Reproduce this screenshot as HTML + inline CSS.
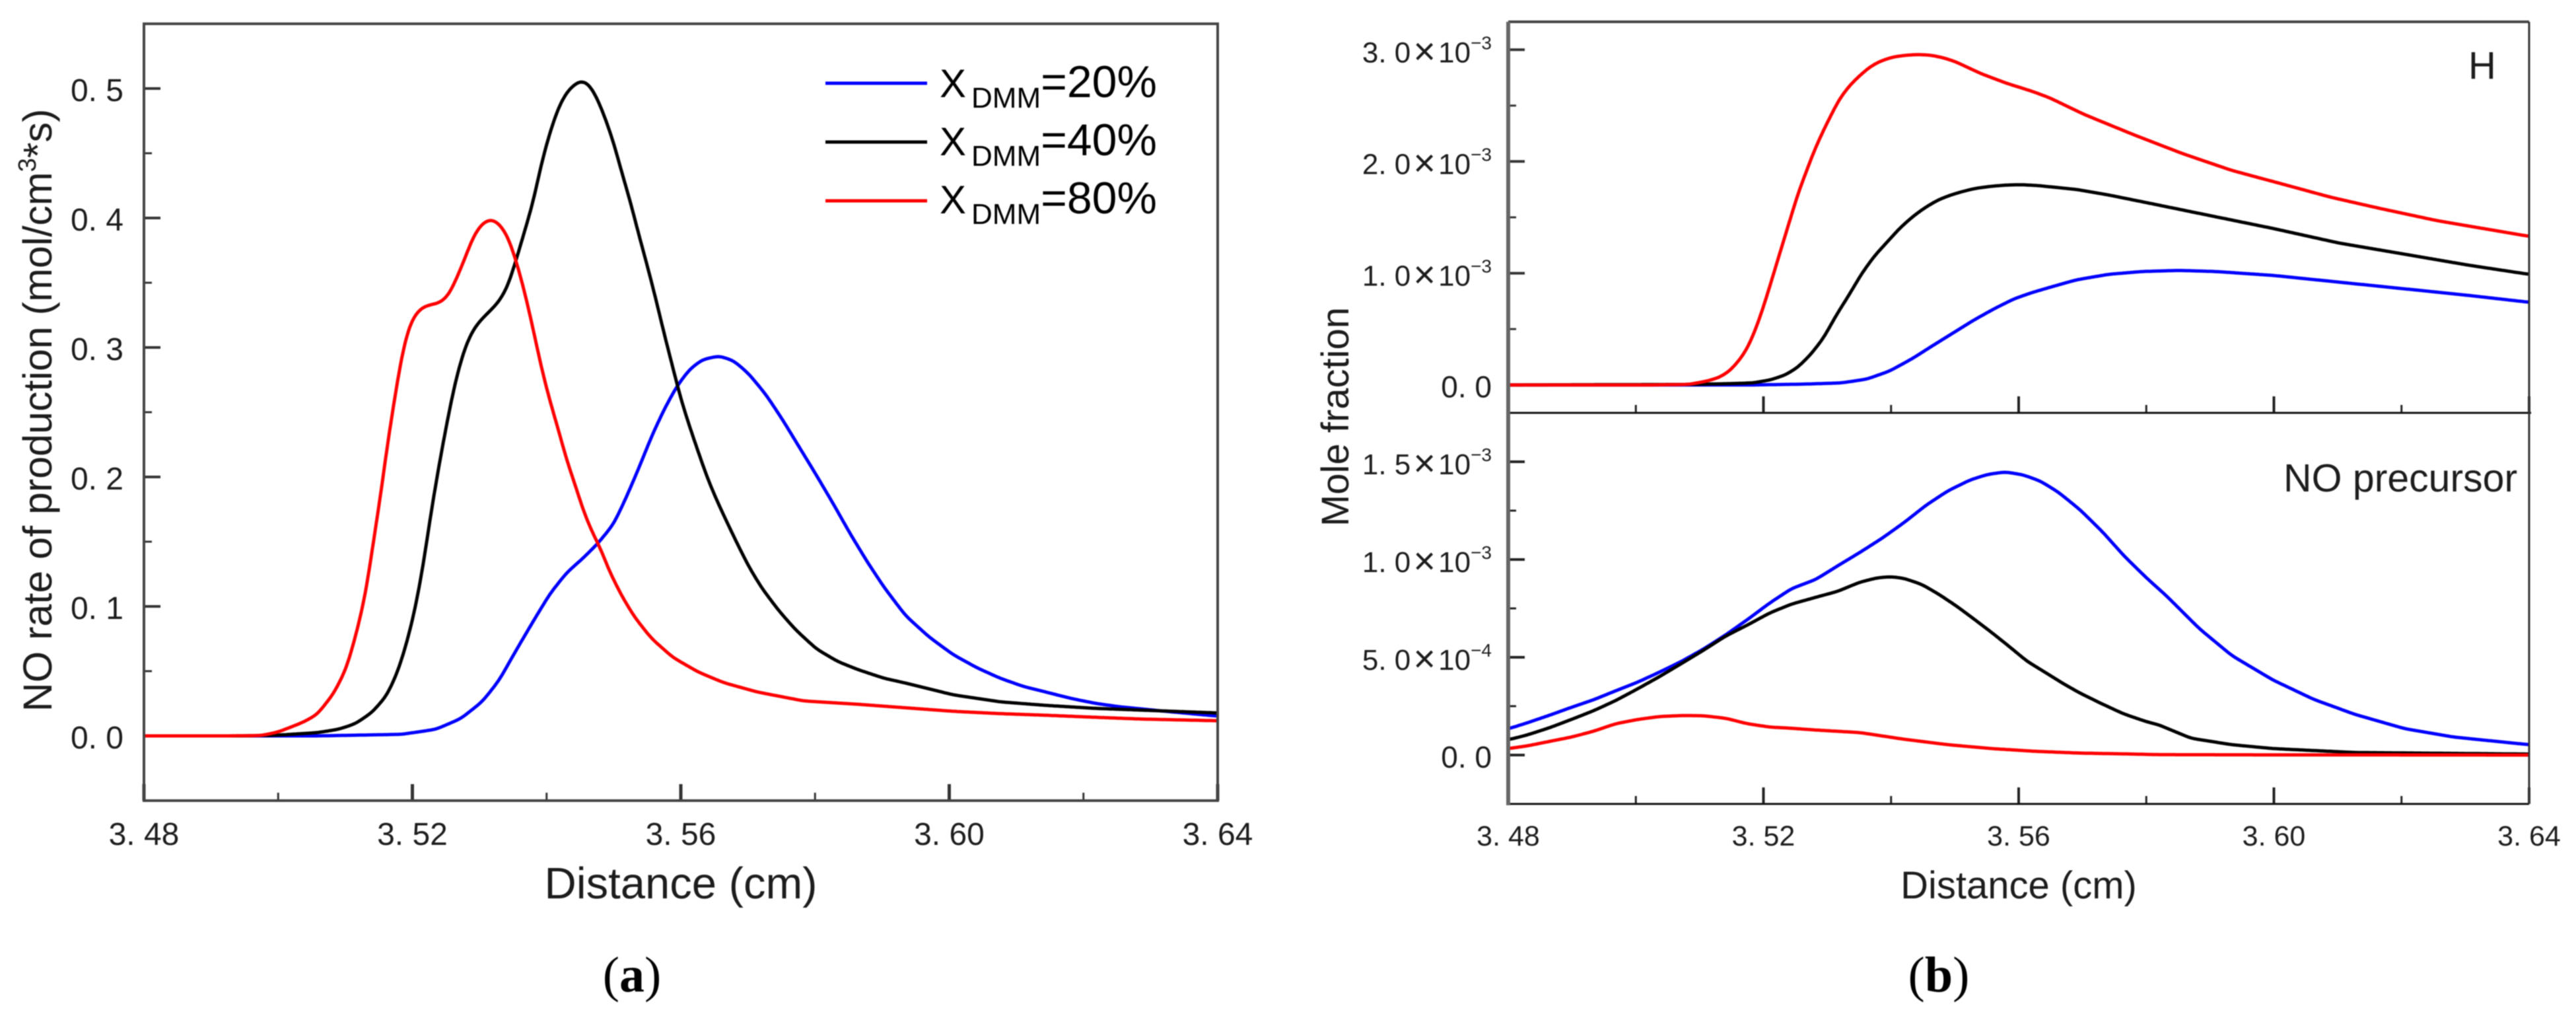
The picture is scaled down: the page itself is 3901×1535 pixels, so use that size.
<!DOCTYPE html>
<html>
<head>
<meta charset="utf-8">
<title>NO rate of production and mole fraction charts</title>
<style>
html,body{margin:0;padding:0;background:#fff;width:3901px;height:1535px;overflow:hidden}
svg{display:block;filter:blur(0.7px)}
text{font-family:"Liberation Sans",sans-serif;fill:#1c1c1c}
.serif{font-family:"Liberation Serif",serif;fill:#000}
</style>
</head>
<body>
<svg id="figure" xmlns="http://www.w3.org/2000/svg" width="3901" height="1535" viewBox="0 0 3901 1535">
  <rect x="0" y="0" width="3901" height="1535" fill="#fff"/>
  <g id="layer-a"></g>
  <g id="layer-b"></g>

  <text transform="translate(78,621) rotate(-90)" text-anchor="middle" font-size="61">NO rate of production (mol/cm<tspan font-size="38" dy="-24">3</tspan><tspan dy="24">*s)</tspan></text>
  <text x="1031" y="1360" text-anchor="middle" font-size="67">Distance (cm)</text>

  <g>
    <line x1="1250" x2="1404" y1="126" y2="126" stroke="#0000ff" stroke-width="5"/>
    <line x1="1250" x2="1404" y1="215" y2="215" stroke="#000" stroke-width="5"/>
    <line x1="1250" x2="1404" y1="304" y2="304" stroke="#ff0000" stroke-width="5"/>
    <text x="1423" y="147" font-size="60" style="fill:#000">X<tspan font-size="44" dx="8" dy="16">DMM</tspan><tspan dy="-16" font-size="68">=20%</tspan></text>
    <text x="1423" y="235" font-size="60" style="fill:#000">X<tspan font-size="44" dx="8" dy="16">DMM</tspan><tspan dy="-16" font-size="68">=40%</tspan></text>
    <text x="1423" y="323" font-size="60" style="fill:#000">X<tspan font-size="44" dx="8" dy="16">DMM</tspan><tspan dy="-16" font-size="68">=80%</tspan></text>
  </g>

  <text transform="translate(2042,631) rotate(-90)" text-anchor="middle" font-size="58">Mole fraction</text>
  <text x="3057" y="1360" text-anchor="middle" font-size="58">Distance (cm)</text>
  <text x="3738" y="119" font-size="58">H</text>
  <text x="3458" y="744" font-size="59">NO precursor</text>

  <text class="serif" x="957" y="1501" text-anchor="middle" font-size="76">(<tspan font-weight="bold">a</tspan>)</text>
  <text class="serif" x="2936" y="1501" text-anchor="middle" font-size="76">(<tspan font-weight="bold">b</tspan>)</text>
</svg>

<script>
// ---- Panel (a): NO rate of production ----
var aRedX = [3.48,3.4925,3.4975,3.5,3.5037,3.5058,3.5083,3.5102,3.5118,3.5131,3.5143,3.5153,3.5162,3.5172,3.5181,3.519,3.52,3.5213,3.5225,3.5241,3.5254,3.5266,3.5279,3.5291,3.5304,3.5317,3.5329,3.5342,3.5354,3.5367,3.538,3.5392,3.5405,3.5418,3.543,3.5443,3.5455,3.5468,3.5481,3.5493,3.5512,3.5531,3.5556,3.5588,3.5626,3.5664,3.5714,3.5783,3.5865,3.5935,3.6006,3.6076,3.6146,3.6216,3.6287,3.64];
var aRedY = [0,0,.0003,.003,.0105,.0165,.0329,.0525,.082,.1114,.1539,.1866,.2226,.2553,.2847,.3076,.3224,.3305,.3328,.3345,.3403,.3534,.3698,.3861,.3959,.3992,.3959,.3861,.3681,.3436,.3142,.2847,.2586,.2357,.2128,.1932,.1735,.1572,.1441,.1278,.1081,.0918,.0754,.0607,.0493,.0411,.0339,.027,.0244,.0217,.019,.0172,.0159,.0144,.013,.0117];

var aBlackX = [3.48,3.495,3.5,3.5058,3.509,3.5115,3.514,3.5162,3.5178,3.519,3.5203,3.5216,3.5228,3.5241,3.5254,3.5266,3.5279,3.5291,3.5304,3.5317,3.5329,3.5342,3.5354,3.5367,3.538,3.5392,3.5405,3.5418,3.543,3.5443,3.5452,3.5462,3.5474,3.5487,3.55,3.5512,3.5525,3.5537,3.555,3.5563,3.5575,3.5588,3.56,3.5613,3.5626,3.5638,3.5651,3.5664,3.5682,3.5701,3.572,3.5746,3.5771,3.5802,3.5834,3.5865,3.5903,3.5935,3.6006,3.6076,3.6146,3.6216,3.6287,3.64];
var aBlackY = [0,0,.0006,.0025,.0051,.0094,.0182,.0313,.0493,.0689,.0951,.131,.1736,.2128,.2488,.2782,.3011,.3142,.3224,.3289,.3354,.3469,.3665,.3894,.4123,.4417,.4663,.4859,.4973,.5039,.5060,.5040,.4941,.4777,.4581,.4352,.4123,.3878,.3632,.3371,.3109,.2847,.2602,.239,.2193,.2014,.185,.1703,.1507,.131,.1147,.0967,.082,.0672,.0574,.051,.0445,.0408,.0317,.0263,.0235,.0213,.0199,.0177];

var aBlueX = [3.48,3.5058,3.5121,3.5184,3.5235,3.5272,3.5304,3.5329,3.5354,3.538,3.5405,3.543,3.5455,3.5477,3.55,3.5518,3.5537,3.5556,3.5575,3.5594,3.5613,3.5632,3.5657,3.5679,3.5701,3.5727,3.5752,3.5777,3.5802,3.5828,3.5853,3.5878,3.5903,3.5935,3.597,3.6006,3.6041,3.6076,3.6111,3.6146,3.6181,3.6216,3.6252,3.6287,3.6322,3.64];
var aBlueY = [0,0,.0006,.0012,.0051,.0133,.0264,.0427,.0656,.0885,.1098,.1261,.1376,.149,.1637,.1834,.2063,.2308,.252,.27,.2831,.2906,.2935,.2897,.2798,.2635,.2439,.2226,.2014,.1785,.1556,.1343,.1147,.0928,.0764,.0627,.0527,.0445,.0381,.0336,.029,.0253,.0226,.0208,.019,.0153];

// ---- Panel (b) upper: H mole fraction (units of 1e-3) ----
var hRedX = [3.48,3.5024,3.5083,3.5111,3.5131,3.5147,3.5163,3.5175,3.5187,3.5197,3.5207,3.5219,3.5231,3.5242,3.5254,3.5266,3.5278,3.529,3.5302,3.5318,3.5334,3.535,3.5366,3.5382,3.5402,3.5422,3.5441,3.5461,3.5481,3.5501,3.5541,3.5581,3.5621,3.5648,3.5703,3.578,3.5857,3.5934,3.6012,3.6089,3.6166,3.6256,3.64];
var hRedY = [0,0,.0045,.034,.068,.125,.227,.329,.487,.646,.827,1.054,1.28,1.484,1.711,1.892,2.074,2.23,2.37,2.549,2.673,2.764,2.843,2.895,2.934,2.95,2.957,2.952,2.93,2.893,2.786,2.7,2.628,2.571,2.42,2.24,2.07,1.92,1.80,1.68,1.58,1.47,1.33];

var hBlackX = [3.48,3.5083,3.5143,3.5183,3.5211,3.5235,3.5254,3.5274,3.5294,3.5314,3.5334,3.5354,3.5374,3.5394,3.5414,3.5434,3.5453,3.5473,3.5493,3.5513,3.5533,3.5557,3.5581,3.5605,3.5629,3.5648,3.569,3.5741,3.5819,3.5896,3.5999,3.6102,3.6205,3.6307,3.64];
var hBlackY = [0,.0045,.011,.018,.045,.091,.159,.272,.419,.623,.804,.997,1.155,1.28,1.405,1.507,1.586,1.654,1.699,1.733,1.76,1.778,1.789,1.792,1.785,1.774,1.75,1.70,1.61,1.52,1.40,1.27,1.17,1.07,.99];

var hBlueX = [3.48,3.5183,3.5262,3.5322,3.5362,3.5398,3.5434,3.5465,3.5497,3.5529,3.5561,3.5593,3.5621,3.5648,3.569,3.5741,3.5793,3.5851,3.5909,3.5999,3.6102,3.6205,3.6307,3.64];
var hBlueY = [0,0,.007,.018,.052,.125,.238,.351,.464,.578,.68,.771,.827,.872,.94,.99,1.015,1.025,1.015,.98,.92,.86,.80,.74];

// ---- Panel (b) lower: NO precursor mole fraction (units of 1e-3) ----
var pBlueX = [3.48,3.483,3.4865,3.4899,3.4934,3.4968,3.5003,3.5037,3.5072,3.5106,3.5141,3.5175,3.521,3.5244,3.5282,3.5317,3.5351,3.5386,3.542,3.5455,3.5489,3.5524,3.5551,3.5579,3.5607,3.5634,3.5662,3.5696,3.5731,3.5765,3.58,3.5832,3.5883,3.5934,3.5999,3.6063,3.6127,3.6205,3.6282,3.64];
var pBlueY = [.134,.165,.204,.244,.283,.328,.373,.424,.48,.542,.615,.693,.778,.851,.898,.969,1.036,1.109,1.188,1.278,1.351,1.407,1.435,1.448,1.433,1.401,1.345,1.255,1.143,1.019,.907,.813,.647,.509,.383,.284,.208,.135,.092,.053];

var pBlackX = [3.48,3.483,3.4865,3.4899,3.4934,3.4968,3.5003,3.5037,3.5072,3.5106,3.5141,3.5175,3.521,3.5244,3.528,3.5317,3.5351,3.5379,3.54,3.542,3.5448,3.5475,3.5503,3.5531,3.5558,3.5586,3.5613,3.5641,3.5669,3.5696,3.5731,3.5765,3.58,3.582,3.587,3.5934,3.5999,3.6127,3.64];
var pBlackY = [.078,.103,.14,.182,.227,.278,.339,.401,.469,.536,.609,.665,.727,.772,.805,.838,.884,.907,.912,.904,.873,.822,.761,.693,.626,.553,.48,.424,.367,.317,.261,.21,.171,.154,.086,.053,.033,.013,.005];

var pRedX = [3.48,3.483,3.4865,3.4899,3.4934,3.4968,3.5003,3.5037,3.5072,3.5106,3.5141,3.5175,3.521,3.5244,3.5282,3.5351,3.542,3.5489,3.5558,3.5627,3.5696,3.5765,3.582,3.6,3.64];
var pRedY = [.033,.047,.07,.092,.122,.16,.182,.197,.202,.201,.188,.16,.143,.137,.128,.115,.081,.053,.033,.019,.01,.006,.002,.001,0];

// ---- Tick values and labels ----
var xMajorTicks = [3.48,3.52,3.56,3.60,3.64];
var xMinorTicks = [3.50,3.54,3.58,3.62];
var xTickLabels = ['3. 48','3. 52','3. 56','3. 60','3. 64'];
var aYMajorTicks = [0,.1,.2,.3,.4,.5];
var aYMinorTicks = [.05,.15,.25,.35,.45];
var aYTickLabels = ['0. 0','0. 1','0. 2','0. 3','0. 4','0. 5'];
var hYMajorTicks = [0,1,2,3];
var hYMinorTicks = [.5,1.5,2.5];
var hYTickMantissa = ['0. 0','1. 0','2. 0','3. 0'];
var hYTickExponent = ['','-3','-3','-3'];
var pYMajorTicks = [0,.5,1,1.5];
var pYMinorTicks = [.25,.75,1.25];
var pYTickMantissa = ['0. 0','5. 0','1. 0','1. 5'];
var pYTickExponent = ['','-4','-3','-3'];

var NS = 'http://www.w3.org/2000/svg';
function scale(d0,d1,r0,r1){return function(v){return r0+(v-d0)/(d1-d0)*(r1-r0);};}
function make(tag,parent,name,props){
  var el=document.createElementNS(NS,tag);
  
  
  for(var k in props){el.setAttribute(k,props[k]);}
  parent.appendChild(el);
  return el;
}
// Straight-segment value lookup between the digitised readings.
function lookup(xs,ys,x){
  if(x<=xs[0])return ys[0];
  var n=xs.length;
  if(x>=xs[n-1])return ys[n-1];
  var i=1;
  while(xs[i]<x)i++;
  return ys[i-1]+(ys[i]-ys[i-1])*(x-xs[i-1])/(xs[i]-xs[i-1]);
}
// Line drawn through the readings with a narrow Gaussian kernel, so hand-read jitter does not show as kinks.
function smoothPath(xs,ys,fx,fy){
  var sigma=.00055,step=.0002,reach=3*sigma,s='';
  var x0=xs[0],x1=xs[xs.length-1];
  for(var x=x0;x<=x1+1e-9;x+=step){
    var sum=0,wsum=0;
    for(var u=-reach;u<=reach+1e-9;u+=sigma/4){
      var w=Math.exp(-u*u/(2*sigma*sigma));
      sum+=w*lookup(xs,ys,x+u);
      wsum+=w;
    }
    s+=(s?'L':'M')+fx(x).toFixed(1)+' '+fy(sum/wsum).toFixed(1);
  }
  return s;
}
function curve(parent,name,xs,ys,fx,fy,color,w){
  make('path',parent,name,{d:smoothPath(xs,ys,fx,fy),fill:'none',stroke:color,'stroke-width':w,'stroke-linejoin':'round'});
}
function xTicks(parent,prefix,fx,base,majorW,minorW,color){
  xMajorTicks.forEach(function(v){make('line',parent,prefix+'-major-tick',{x1:fx(v),x2:fx(v),y1:base,y2:base-25,stroke:color,'stroke-width':majorW});});
  xMinorTicks.forEach(function(v){make('line',parent,prefix+'-minor-tick',{x1:fx(v),x2:fx(v),y1:base,y2:base-12,stroke:color,'stroke-width':minorW});});
}
function yTicks(parent,prefix,majors,minors,fy,left,color){
  majors.forEach(function(v){make('line',parent,prefix+'-major-tick',{x1:left,x2:left+25,y1:fy(v),y2:fy(v),stroke:color,'stroke-width':4});});
  minors.forEach(function(v){make('line',parent,prefix+'-minor-tick',{x1:left,x2:left+12,y1:fy(v),y2:fy(v),stroke:color,'stroke-width':3});});
}
function xLabels(parent,prefix,fx,y,size){
  xMajorTicks.forEach(function(v,i){
    var t=make('text',parent,prefix+'-tick-label',{x:fx(v),y:y,'text-anchor':'middle','font-size':size});
    t.textContent=xTickLabels[i];
  });
}
function sciLabels(parent,prefix,ticks,mant,exp,fy,right){
  ticks.forEach(function(v,i){
    var t=make('text',parent,prefix+'-tick-label',{x:right,y:fy(v)+19,'text-anchor':'end','font-size':exp[i]?44:46});
    t.appendChild(document.createTextNode(mant[i]));
    if(exp[i]){
      var a=make('tspan',t,prefix+'-tick-multiplier',{dx:4,dy:3,'font-size':58});
      a.textContent='\u00d7';
      var b=make('tspan',t,prefix+'-tick-power',{dx:4,dy:-3});
      b.textContent='10';
      var c=make('tspan',t,prefix+'-tick-exponent',{'font-size':28,dy:-20});
      c.textContent=exp[i].replace('-','\u2212');
    }
  });
}

// Panel (a)
(function(){
  var g=document.getElementById('layer-a');
  var L=218,R=1844,T=36,B=1212;
  var fx=scale(3.48,3.64,L,R), fy=scale(-.05,.55,B,T);
  yTicks(g,'y-a',aYMajorTicks,aYMinorTicks,fy,L,'#333');
  xTicks(g,'x-a',fx,B,5,3,'#333');
  curve(g,'series-x20',aBlueX,aBlueY,fx,fy,'#0000ff',5);
  curve(g,'series-x40',aBlackX,aBlackY,fx,fy,'#000',5);
  curve(g,'series-x80',aRedX,aRedY,fx,fy,'#ff0000',5);
  make('rect',g,'plot-frame-a',{x:L,y:T,width:R-L,height:B-T,fill:'none',stroke:'#444','stroke-width':4});
  aYMajorTicks.forEach(function(v,i){
    var t=make('text',g,'y-a-tick-label',{x:187,y:fy(v)+19,'text-anchor':'end','font-size':48});
    t.textContent=aYTickLabels[i];
  });
  xLabels(g,'x-a',fx,1279,48);
})();

// Panel (b)
(function(){
  var g=document.getElementById('layer-b');
  var L=2284,R=3830,T=33,M=625,B=1217;
  var fx=scale(3.48,3.64,L,R);
  var fh=scale(-.25,3.25,M,T), fp=scale(-.25,1.75,B,M);
  yTicks(g,'y-h',hYMajorTicks,hYMinorTicks,fh,L,'#333');
  yTicks(g,'y-p',pYMajorTicks,pYMinorTicks,fp,L,'#222');
  xTicks(g,'x-h',fx,M,4,3,'#222');
  xTicks(g,'x-p',fx,B,4,3,'#222');
  curve(g,'series-h-x20',hBlueX,hBlueY,fx,fh,'#0000ff',5);
  curve(g,'series-h-x40',hBlackX,hBlackY,fx,fh,'#000',5);
  curve(g,'series-h-x80',hRedX,hRedY,fx,fh,'#ff0000',5);
  curve(g,'series-p-x20',pBlueX,pBlueY,fx,fp,'#0000ff',5);
  curve(g,'series-p-x40',pBlackX,pBlackY,fx,fp,'#000',5);
  curve(g,'series-p-x80',pRedX,pRedY,fx,fp,'#ff0000',5);
  make('line',g,'axis-top-b',{x1:L,x2:R,y1:T,y2:T,stroke:'#444','stroke-width':4});
  make('line',g,'axis-separator-b',{x1:L,x2:R+3,y1:M,y2:M,stroke:'#111','stroke-width':3});
  make('line',g,'axis-bottom-b',{x1:L,x2:R,y1:B,y2:B,stroke:'#111','stroke-width':3});
  make('line',g,'axis-left-b',{x1:L,x2:L,y1:T,y2:B+2,stroke:'#666','stroke-width':6});
  make('line',g,'axis-right-b',{x1:R,x2:R,y1:T,y2:B,stroke:'#333','stroke-width':3});
  sciLabels(g,'y-h',hYMajorTicks,hYTickMantissa,hYTickExponent,fh,2259);
  sciLabels(g,'y-p',pYMajorTicks,pYTickMantissa,pYTickExponent,fp,2259);
  xLabels(g,'x-b',fx,1280,43);
})();
</script>
</body>
</html>
